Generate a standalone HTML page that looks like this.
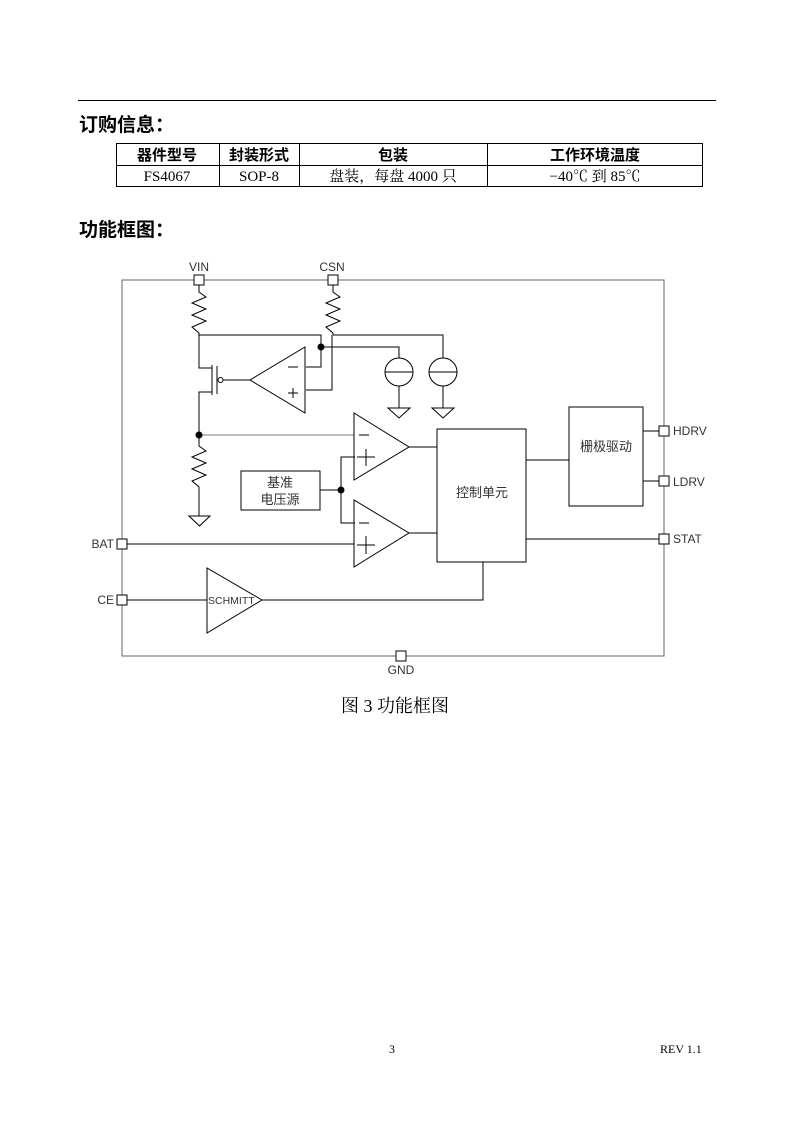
<!DOCTYPE html>
<html><head><meta charset="utf-8"><style>
html,body{margin:0;padding:0;background:#fff}
svg{display:block}
.s{font-family:"Liberation Sans","Noto Sans CJK SC",sans-serif}
.r{font-family:"Liberation Serif","Noto Serif CJK SC",serif}
</style></head><body>
<svg width="793" height="1122" viewBox="0 0 793 1122" xmlns="http://www.w3.org/2000/svg">
<line x1="78" y1="100.5" x2="716" y2="100.5" stroke="#000" stroke-width="1"/>
<text x="79" y="131" class="s" font-size="19" font-weight="bold">订购信息：</text>
<g stroke="#000" stroke-width="1" fill="none">
<rect x="116.5" y="143.5" width="586" height="43"/>
<line x1="116" y1="165.5" x2="702" y2="165.5"/>
<line x1="219.5" y1="143" x2="219.5" y2="186"/>
<line x1="299.5" y1="143" x2="299.5" y2="186"/>
<line x1="487.5" y1="143" x2="487.5" y2="186"/>
</g>
<g class="r" font-size="15" text-anchor="middle">
<text x="167" y="160" font-weight="bold" class="s">器件型号</text>
<text x="259" y="160" font-weight="bold" class="s">封装形式</text>
<text x="393" y="160" font-weight="bold" class="s">包装</text>
<text x="595" y="160" font-weight="bold" class="s">工作环境温度</text>
<text x="167" y="181">FS4067</text>
<text x="259" y="181">SOP-8</text>
<text x="393" y="181">盘装，每盘 4000 只</text>
<text x="595" y="181">−40℃ 到 85℃</text>
</g>
<text x="79" y="236" class="s" font-size="19" font-weight="bold">功能框图：</text>

<g stroke="#000" stroke-width="1" fill="none">
<rect x="122" y="280" width="542" height="376" stroke="#666"/>
<!-- pins -->
<g fill="#fff">
<rect x="194" y="275" width="10" height="10"/>
<rect x="328" y="275" width="10" height="10"/>
<rect x="117" y="539" width="10" height="10"/>
<rect x="117" y="595" width="10" height="10"/>
<rect x="396" y="651" width="10" height="10"/>
<rect x="659" y="426" width="10" height="10"/>
<rect x="659" y="476" width="10" height="10"/>
<rect x="659" y="534" width="10" height="10"/>
</g>
<!-- resistors -->
<polyline points="199,285 199,292 206,297 192,303 206,309 192,315 206,321 192,327 199,333 199,335"/>
<polyline points="333,285 333,292 340,297 326,303 340,309 326,315 340,321 326,327 333,333 333,335"/>
<polyline points="199,435 199,446 206,451 192,457 206,463 192,469 206,475 192,481 199,487 199,516"/>
<polygon points="189,516 210,516 199.5,526"/>
<!-- top node -->
<polyline points="199,335 321,335 321,367 306,367"/>
<polyline points="333,335 443,335 443,358"/>
<polyline points="321,347 399,347 399,358"/>
<polyline points="332,335 332,390 306,390"/>
<!-- current sources -->
<circle cx="399" cy="372" r="14"/><line x1="385" y1="372" x2="413" y2="372"/>
<circle cx="443" cy="372" r="14"/><line x1="429" y1="372" x2="457" y2="372"/>
<polyline points="399,386 399,408"/><polygon points="388,408 410,408 399,418"/>
<polyline points="443,386 443,408"/><polygon points="432,408 454,408 443,418"/>
<!-- opamp1 -->
<polygon points="305,347 305,413 250,380"/>
<line x1="288" y1="367" x2="298" y2="367"/>
<line x1="288" y1="393" x2="298" y2="393"/><line x1="293" y1="388" x2="293" y2="398"/>
<!-- PMOS -->
<polyline points="199,335 199,368 212,368"/>
<line x1="212" y1="365" x2="212" y2="395"/>
<polyline points="212,392 199,392 199,435"/>
<line x1="217" y1="366" x2="217" y2="394"/>
<circle cx="220.5" cy="380" r="2.5"/>
<line x1="223" y1="380" x2="250" y2="380"/>
<!-- divider node -->
<line x1="199" y1="435" x2="354" y2="435" stroke="#777"/>
<!-- opamp2 -->
<polygon points="354,413 354,480 409,447"/>
<line x1="359" y1="435" x2="369" y2="435"/>
<line x1="357" y1="457" x2="375" y2="457"/><line x1="366" y1="449" x2="366" y2="466"/>
<!-- opamp3 -->
<polygon points="354,500 354,567 409,533"/>
<line x1="359" y1="523" x2="369" y2="523"/>
<line x1="357" y1="545" x2="375" y2="545"/><line x1="366" y1="536" x2="366" y2="554"/>
<!-- reference -->
<rect x="241" y="471" width="79" height="39"/>
<polyline points="320,490 341,490"/>
<polyline points="355,457 341,457 341,523 355,523"/>
<line x1="127" y1="544" x2="354" y2="544"/>
<line x1="409" y1="447" x2="437" y2="447"/>
<line x1="409" y1="533" x2="437" y2="533"/>
<!-- control -->
<rect x="437" y="429" width="89" height="133"/>
<rect x="569" y="407" width="74" height="99"/>
<line x1="526" y1="460" x2="569" y2="460"/>
<line x1="643" y1="431" x2="659" y2="431"/>
<line x1="643" y1="481" x2="659" y2="481"/>
<line x1="526" y1="539" x2="659" y2="539"/>
<!-- schmitt -->
<line x1="127" y1="600" x2="207" y2="600"/>
<polygon points="207,568 207,633 262,600"/>
<polyline points="262,600 483,600 483,562"/>
</g>
<circle cx="321" cy="347" r="3.5"/>
<circle cx="199" cy="435" r="3.5"/>
<circle cx="341" cy="490" r="3.5"/>
<g class="s" font-size="12" fill="#333">
<text x="199" y="271" text-anchor="middle">VIN</text>
<text x="332" y="271" text-anchor="middle">CSN</text>
<text x="114" y="548" text-anchor="end">BAT</text>
<text x="114" y="604" text-anchor="end">CE</text>
<text x="401" y="674" text-anchor="middle">GND</text>
<text x="673" y="435">HDRV</text>
<text x="673" y="486">LDRV</text>
<text x="673" y="543">STAT</text>
<text x="280" y="487" text-anchor="middle" font-size="13">基准</text>
<text x="280" y="504" text-anchor="middle" font-size="13">电压源</text>
<text x="482" y="497" text-anchor="middle" font-size="13">控制单元</text>
<text x="606" y="451" text-anchor="middle" font-size="13">栅极驱动</text>
<text x="208" y="604" font-size="10.5">SCHMITT</text>
</g>
<text x="395" y="712" class="r" font-size="18" text-anchor="middle">图 3  功能框图</text>
<text x="392" y="1053" class="r" font-size="12" text-anchor="middle">3</text>
<text x="660" y="1053" class="r" font-size="12">REV 1.1</text>
</svg>
</body></html>
